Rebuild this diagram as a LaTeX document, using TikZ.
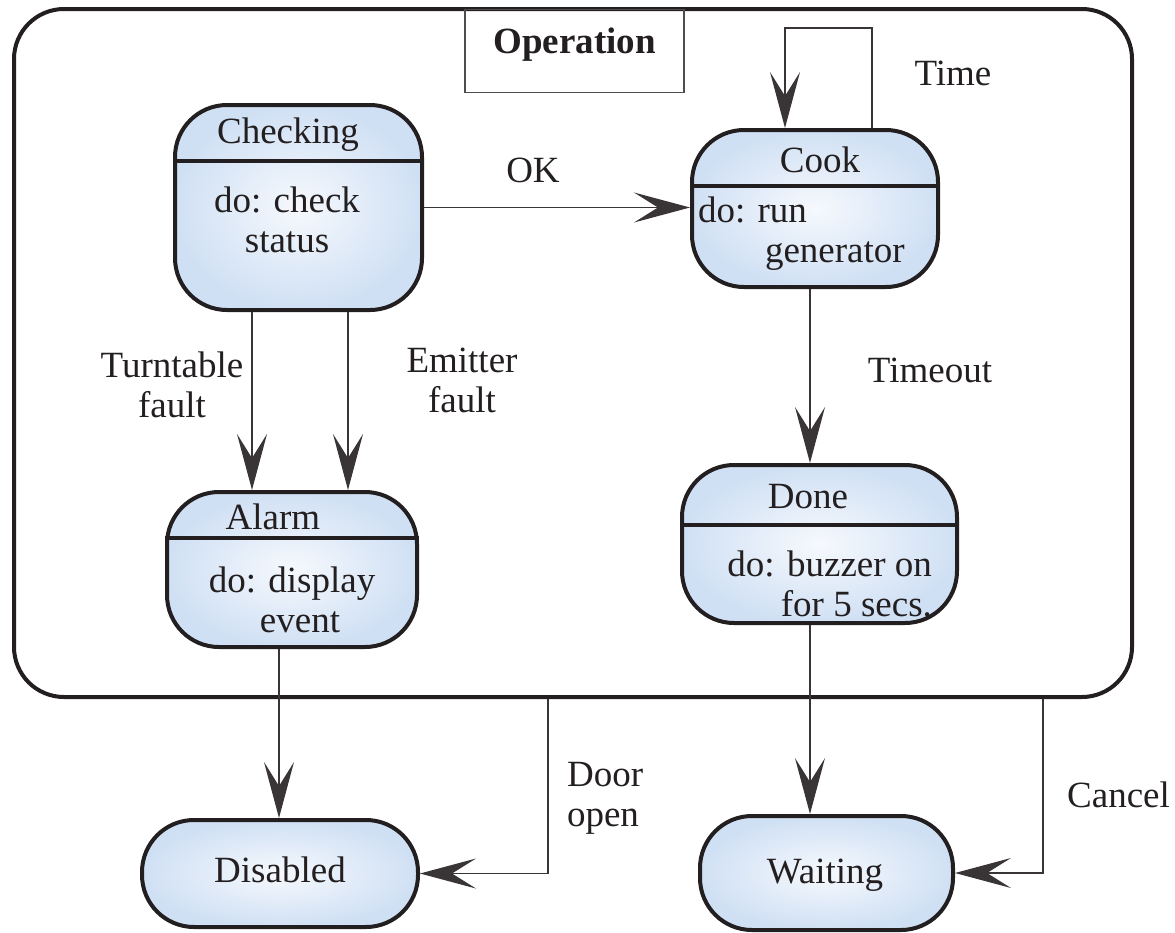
\documentclass[tikz,border=0pt]{standalone}
\usepackage{fontspec}
\setmainfont{Liberation Serif}
\usetikzlibrary{arrows.meta}
\definecolor{stateblue}{RGB}{208,224,244}
\definecolor{statewhite}{RGB}{246,249,253}
\definecolor{inkgray}{RGB}{35,31,32}

\begin{document}
\begin{tikzpicture}
        [x=0.5pt, y=-0.5pt,
        every node/.style={font=\fontsize{18.5}{20}\selectfont, text=inkgray},
        state/.style={draw=inkgray, line width=2pt, rounded corners=26pt,
            shading=radial, inner color=statewhite, outer color=stateblue},
        divider/.style={inkgray, line width=2pt},
        trans/.style={draw=inkgray!90, line width=0.6pt,
            -{Stealth[length=28pt, width=15pt, inset=12pt]}}]

        \useasboundingbox (0,0) rectangle (1175,933);

        % superstate Operation
        \node[draw=inkgray, line width=2pt, rounded corners=25pt,
            minimum width=559pt, minimum height=344pt] (operation) at (573,353) {};
        \node[draw=inkgray!80, line width=0.6pt, anchor=north,
            minimum width=109.5pt, minimum height=41.5pt, text depth=10pt,
            font=\fontsize{18.5}{20}\selectfont\bfseries] (oplabel) at (574.5,9) {Operation};

        % states
        \node[state, minimum width=123.5pt, minimum height=102.5pt] (checking) at (298.5,207.5) {};
        \node[state, minimum width=123pt, minimum height=78.5pt] (cook) at (815,208.5) {};
        \node[state, minimum width=125pt, minimum height=77.5pt] (alarm) at (292,569.5) {};
        \node[state, minimum width=137.5pt, minimum height=79pt] (done) at (819.5,544) {};
        \node[state, minimum width=138pt, minimum height=53.5pt] (disabled) at (280,873.5) {};
        \node[state, minimum width=126.5pt, minimum height=57pt] (waiting) at (826.5,873) {};

        % compartment lines
        \draw[divider] ([yshift=-29pt]checking.north west) -- ([yshift=-29pt]checking.north east);
        \draw[divider] ([yshift=-29pt]cook.north west) -- ([yshift=-29pt]cook.north east);
        \draw[divider] ([yshift=-24pt]alarm.north west) -- ([yshift=-24pt]alarm.north east);
        \draw[divider] ([yshift=-31pt]done.north west) -- ([yshift=-31pt]done.north east);

        % state names and activities
        \node (checkingt) at (288,135) {Checking};
        \node[align=center] (checkingb) at (287,220) {do: check\\status};
        \node (cookt) at (820,160) {Cook};
        \node[align=left, anchor=west] (cookb) at (691,234) {do: run\\\hspace*{33.5pt}generator};
        \node (alarmt) at (273,517) {Alarm};
        \node[align=center] (alarmb) at (292,600) {do: display\\\hspace*{8pt}event};
        \node (donet) at (808,497) {Done};
        \node[align=right, anchor=east] (doneb) at (939,584) {do: buzzer on\\for 5 secs.};
        \node (disabledt) at (280,870) {Disabled};
        \node (waitingt) at (825,875) {Waiting};

        % end points of transitions
        \coordinate (tt) at ([xshift=-23.25pt]checking.south);
        \coordinate (em) at ([xshift=24.75pt]checking.south);
        \coordinate (to) at ([xshift=-2.5pt]cook.south);
        \coordinate (dw) at ([xshift=-4.75pt]done.south);
        \coordinate (ad) at ([xshift=-6.5pt]alarm.south);
        \coordinate (dooro) at ([xshift=-12.5pt]operation.south);
        \coordinate (cancelo) at ([xshift=235pt]operation.south);
        \coordinate (timeo) at ([xshift=28.5pt]cook.north);
        \coordinate (timei) at ([xshift=-15pt]cook.north);

        % transitions
        \draw[trans] (checking.east) -- (checking.east -| cook.west);
        \draw[trans] (timeo) -- ++(0,-100) -| (timei);
        \draw[trans] (tt) -- (tt |- alarm.north);
        \draw[trans] (em) -- (em |- alarm.north);
        \draw[trans] (to) -- (to |- done.north);
        \draw[trans] (dw) -- (dw |- waiting.north);
        \draw[trans] (ad) -- (ad |- disabled.north);
        \draw[trans] (dooro) |- (disabled.east);
        \draw[trans] (cancelo) |- (waiting.east);

        % transition labels
        \node (okl) at (533,170) {OK};
        \node (timel) at (953,73) {Time};
        \node[align=center] (ttl) at (172,385) {Turntable\\fault};
        \node[align=center] (eml) at (462,380) {Emitter\\fault};
        \node (tol) at (930,370) {Timeout};
        \node[align=left, anchor=west] (doorl) at (560,798) {Door\\open};
        \node[anchor=east] (cancell) at (1177,795) {Cancel};

    \end{tikzpicture}
\end{document}
